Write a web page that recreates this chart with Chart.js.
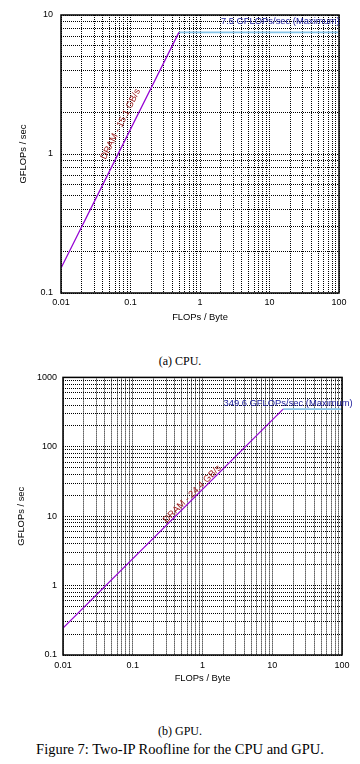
<!DOCTYPE html>
<html><head><meta charset="utf-8">
<script src="https://cdn.jsdelivr.net/npm/chart.js@4/dist/chart.umd.min.js"></script>
<style>
html,body{margin:0;padding:0;background:#fff;width:360px;height:764px;overflow:hidden;position:relative;}
canvas{position:absolute;left:0;}
.cap{position:absolute;left:0;width:360px;text-align:center;font-family:"Liberation Serif","Times New Roman",serif;color:#000;white-space:nowrap;}
</style></head><body>
<canvas id="cpu" width="360" height="330" style="top:0px"></canvas>
<div class="cap" style="top:353px;font-size:12px;line-height:16px">(a) CPU.</div>
<canvas id="gpu" width="360" height="330" style="top:366px"></canvas>
<div class="cap" style="top:723px;font-size:12px;line-height:16px">(b) GPU.</div>
<div class="cap" style="top:740px;font-size:14.5px;line-height:18px">Figure 7: Two-IP Roofline for the CPU and GPU.</div>
<script>
// ---- tick labels ----
const xTickValues = [0.01, 0.1, 1, 10, 100];
const xTickLabels = ['0.01', '0.1', '1', '10', '100'];
const cpuYTickValues = [0.1, 1, 10];
const cpuYTickLabels = ['0.1', '1', '10'];
const gpuYTickValues = [0.1, 1, 10, 100, 1000];
const gpuYTickLabels = ['0.1', '1', '10', '100', '1000'];
const minorMultipliers = [2, 3, 4, 5, 6, 7, 8, 9];

// ---- CPU roofline ----
const cpuDramX = [0.01, 0.497];
const cpuDramY = [0.151, 7.5];
const cpuPeakX = [0.497, 100];
const cpuPeakY = [7.5, 7.5];
const cpuPeakText = '7.5 GFLOPs/sec (Maximum)';
const cpuDramText = 'DRAM - 15.1 GB/s';

// ---- GPU roofline ----
const gpuDramX = [0.01, 14.33];
const gpuDramY = [0.244, 349.6];
const gpuPeakX = [14.33, 100];
const gpuPeakY = [349.6, 349.6];
const gpuPeakText = '349.6 GFLOPs/sec (Maximum)';
const gpuDramText = 'DRAM - 24.4 GB/s';

const FONT = '"Liberation Sans", Arial, Helvetica, sans-serif';

function allTicks(majors) {
  const out = [];
  majors.forEach((m, i) => {
    out.push({value: m, major: true});
    if (i < majors.length - 1) minorMultipliers.forEach(k => out.push({value: m * k, major: false}));
  });
  return out;
}
function labelFor(values, labels) {
  return function (v) {
    for (let i = 0; i < values.length; i++) {
      if (Math.abs(v - values[i]) / values[i] < 1e-9) return labels[i];
    }
    return '';
  };
}
function pts(xs, ys) { return xs.map((x, i) => ({x: x, y: ys[i]})); }

const roofPlugin = {
  id: 'roof',
  afterDatasetsDraw(chart, args, o) {
    const {ctx, chartArea: a, scales: {x, y}} = chart;
    ctx.save();
    ctx.setLineDash([]);
    ctx.strokeStyle = '#000';
    ctx.lineWidth = 1.5;
    ctx.strokeRect(a.left, a.top, a.right - a.left, a.bottom - a.top);
    // peak label
    ctx.font = '9.4px ' + FONT;
    ctx.fillStyle = '#1a1a9a';
    ctx.textAlign = 'left';
    ctx.textBaseline = 'middle';
    ctx.fillText(o.peakText, x.getPixelForValue(o.peakAt[0]), y.getPixelForValue(o.peakAt[1]));
    // dram label, rotated along the DRAM line
    const m = chart.getDatasetMeta(0).data;
    const ang = Math.atan2(m[1].y - m[0].y, m[1].x - m[0].x);
    const px = x.getPixelForValue(o.dramAt[0]);
    const py = y.getPixelForValue(o.dramAt[1]);
    ctx.translate(px, py);
    ctx.rotate(ang);
    ctx.fillStyle = '#9a1818';
    ctx.textAlign = 'center';
    ctx.textBaseline = 'middle';
    ctx.fillText(o.dramText, 0, -o.dramOffset);
    ctx.restore();
  }
};

function makeChart(id, cfg) {
  const gridOpts = {color: '#000', lineWidth: 1, drawTicks: false};
  const borderOpts = {display: false, dash: [1, 1]};
  new Chart(document.getElementById(id), {
    type: 'line',
    data: {
      datasets: [
        {data: pts(cfg.dramX, cfg.dramY), borderColor: '#9400d3', borderWidth: 1.2, pointRadius: 0, fill: false, tension: 0},
        {data: pts(cfg.peakX, cfg.peakY), borderColor: '#87c6ea', borderWidth: 1.6, pointRadius: 0, fill: false, tension: 0}
      ]
    },
    options: {
      responsive: false,
      animation: false,
      devicePixelRatio: 1,
      layout: {padding: {left: 0, right: cfg.padRight, top: cfg.padTop, bottom: 0}},
      plugins: {
        legend: {display: false},
        tooltip: {enabled: false},
        roof: {peakText: cfg.peakText, peakAt: cfg.peakAt, dramText: cfg.dramText, dramAt: cfg.dramAt, dramOffset: cfg.dramOffset}
      },
      scales: {
        x: {
          type: 'logarithmic', position: 'bottom', min: xTickValues[0], max: xTickValues[xTickValues.length - 1],
          afterBuildTicks: s => { s.ticks = allTicks(xTickValues); },
          afterFit: s => { s.height = cfg.xHeight; },
          ticks: {autoSkip: false, maxRotation: 0, minRotation: 0, padding: cfg.xTickPad, color: '#000',
            font: {family: FONT, size: 9}, callback: labelFor(xTickValues, xTickLabels)},
          grid: gridOpts, border: borderOpts,
          title: {display: true, text: 'FLOPs / Byte', color: '#000', font: {family: FONT, size: 9.4},
            padding: {top: 0, bottom: cfg.xTitlePad}}
        },
        y: {
          type: 'logarithmic', position: 'left', min: cfg.yTicks[0], max: cfg.yTicks[cfg.yTicks.length - 1],
          afterBuildTicks: s => { s.ticks = allTicks(cfg.yTicks); },
          afterFit: s => { s.width = cfg.yWidth; },
          ticks: {autoSkip: false, padding: cfg.yTickPad, color: '#000',
            font: {family: FONT, size: 9}, callback: labelFor(cfg.yTicks, cfg.yLabels)},
          grid: gridOpts, border: borderOpts,
          title: {display: true, text: 'GFLOPs / sec', color: '#000', font: {family: FONT, size: 9.4},
            padding: {top: cfg.yTitlePad, bottom: 0}}
        }
      }
    },
    plugins: [roofPlugin]
  });
}

makeChart('cpu', {
  dramX: cpuDramX, dramY: cpuDramY, peakX: cpuPeakX, peakY: cpuPeakY,
  yTicks: cpuYTickValues, yLabels: cpuYTickLabels,
  peakText: cpuPeakText, peakAt: [2, 9], dramText: cpuDramText, dramAt: [0.1, 1.51], dramOffset: 11,
  padRight: 21, padTop: 15, xHeight: 37, yWidth: 61, xTickPad: 4, yTickPad: 8, xTitlePad: 7.4, yTitlePad: 17.4
});
makeChart('gpu', {
  dramX: gpuDramX, dramY: gpuDramY, peakX: gpuPeakX, peakY: gpuPeakY,
  yTicks: gpuYTickValues, yLabels: gpuYTickLabels,
  peakText: gpuPeakText, peakAt: [2, 419], dramText: gpuDramText, dramAt: [0.78, 19.0], dramOffset: 4,
  padRight: 18, padTop: 10, xHeight: 41, yWidth: 63, xTickPad: 5, yTickPad: 6, xTitlePad: 12.4, yTitlePad: 16
});
</script>
</body></html>
